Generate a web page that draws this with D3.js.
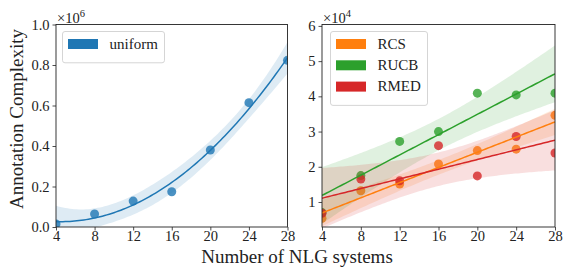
<!DOCTYPE html>
<html><head><meta charset="utf-8">
<script src="https://cdn.jsdelivr.net/npm/d3@7"></script>
<style>
body{margin:0;background:#fff}
svg{display:block}
text{font-family:"Liberation Serif","Times New Roman",serif;fill:#222}
</style>
</head><body>
<svg id="c" width="563" height="268"></svg>
<script>
// ---- data ----
const xs = [4, 8, 12, 16, 20, 24, 28];
const uniform = [15000, 64000, 128000, 174000, 380000, 614000, 823000];
const rcs  = [5400, 13200, 15100, 20800, 24600, 25000, 34600];
const rucb = [7000, 17500, 27200, 30000, 40900, 40400, 40900];
const rmed = [6800, 16500, 16000, 26000, 17400, 28600, 23900];
const seriesNames = ["RCS", "RUCB", "RMED"];
const xTicks = [4, 8, 12, 16, 20, 24, 28];
const yTicksLeft = [0, 200000, 400000, 600000, 800000, 1000000];
const yTicksRight = [10000, 20000, 30000, 40000, 50000, 60000];
const colors = {uniform: "#1f77b4", RCS: "#ff7f0e", RUCB: "#2ca02c", RMED: "#d62728"};

// ---- regression helpers ----
function invert(m) {
  const n = m.length, a = m.map((r, i) => r.concat(Array.from({length: n}, (_, j) => i === j ? 1 : 0)));
  for (let c = 0; c < n; c++) {
    let p = c; for (let r = c + 1; r < n; r++) if (Math.abs(a[r][c]) > Math.abs(a[p][c])) p = r;
    [a[c], a[p]] = [a[p], a[c]];
    const d = a[c][c]; for (let j = 0; j < 2 * n; j++) a[c][j] /= d;
    for (let r = 0; r < n; r++) if (r !== c) { const f = a[r][c]; for (let j = 0; j < 2 * n; j++) a[r][j] -= f * a[c][j]; }
  }
  return a.map(r => r.slice(n));
}
const tTable = {4: 2.7764, 5: 2.5706};
function fit(x, y, deg) {
  const u = v => (v - 16) / 12;
  const row = v => Array.from({length: deg + 1}, (_, k) => Math.pow(u(v), k));
  const X = x.map(row), n = x.length, p = deg + 1;
  const XtX = Array.from({length: p}, (_, i) => Array.from({length: p}, (_, j) => d3.sum(X, r => r[i] * r[j])));
  const Xty = Array.from({length: p}, (_, i) => d3.sum(X, (r, k) => r[i] * y[k]));
  const M = invert(XtX);
  const b = M.map(r => d3.sum(r, (v, j) => v * Xty[j]));
  const pred = v => d3.sum(row(v), (r, k) => r * b[k]);
  const sse = d3.sum(x, (v, k) => (y[k] - pred(v)) ** 2);
  const s2 = sse / (n - p), t = tTable[n - p];
  const grid = d3.range(0, 101).map(i => 4 + 24 * i / 100);
  return grid.map(g => {
    const r = row(g), q = d3.sum(r, (ri, i) => ri * d3.sum(r, (rj, j) => rj * M[i][j]));
    const yh = pred(g), h = t * Math.sqrt(s2 * q);
    return {x: g, y: yh, lo: yh - h, hi: yh + h};
  });
}

const svg = d3.select("#c");
const plotTop = 24.5, plotBottom = 227;

function panel(x0, x1, yDomain, yTicks, yFmt, expLabel, series, deg, id) {
  const x = d3.scaleLinear().domain([4, 28]).range([x0, x1]);
  const y = d3.scaleLinear().domain(yDomain).range([plotBottom, plotTop]);
  svg.append("clipPath").attr("id", id).append("rect")
    .attr("x", x0).attr("y", plotTop).attr("width", x1 - x0).attr("height", plotBottom - plotTop);
  const g = svg.append("g").attr("clip-path", `url(#${id})`);
  const fits = series.map(s => ({s, f: fit(xs, s.values, deg)}));
  fits.forEach(({s, f}) => {
    g.append("g").selectAll("circle").data(xs).join("circle")
      .attr("cx", d => x(d)).attr("cy", (d, i) => y(s.values[i])).attr("r", 4.5)
      .attr("fill", colors[s.name]).attr("fill-opacity", 0.8);
    g.append("path").datum(f)
      .attr("d", d3.area().x(d => x(d.x)).y0(d => y(d.lo)).y1(d => y(d.hi)))
      .attr("fill", colors[s.name]).attr("fill-opacity", 0.15);
  });
  fits.forEach(({s, f}) => {
    g.append("path").datum(f)
      .attr("d", d3.line().x(d => x(d.x)).y(d => y(d.y)))
      .attr("fill", "none").attr("stroke", colors[s.name]).attr("stroke-width", 1.5);
  });
  const xa = svg.append("g").attr("transform", `translate(0,${plotBottom})`)
    .call(d3.axisBottom(x).tickValues(xTicks).tickSize(3.5).tickPadding(3));
  const ya = svg.append("g").attr("transform", `translate(${x0},0)`)
    .call(d3.axisLeft(y).tickValues(yTicks).tickFormat(yFmt).tickSize(3.5).tickPadding(3));
  [xa, ya].forEach(a => {
    a.select(".domain").remove();
    a.selectAll("line").attr("stroke", "#222").attr("stroke-width", 0.8);
    a.selectAll("text").style("font-size", "14.5px").attr("fill", "#222");
  });
  xa.selectAll("text").attr("dy", "7px");
  svg.append("rect").attr("x", x0).attr("y", plotTop).attr("width", x1 - x0).attr("height", plotBottom - plotTop)
    .attr("fill", "none").attr("stroke", "#222").attr("stroke-width", 0.9);
  const ex = svg.append("text").attr("x", x0 + 1).attr("y", plotTop - 1.5).style("font-size", "14.5px");
  ex.append("tspan").text("×10");
  ex.append("tspan").attr("dy", -6).style("font-size", "10.5px").text(expLabel);
  return {x, y};
}

panel(56, 287.5, [0, 1000000], yTicksLeft, d => d3.format(".1f")(d / 1e6), "6",
  [{name: "uniform", values: uniform}], 2, "clipL");
panel(322, 555, [2900, 60400], yTicksRight, d => String(d / 1e4), "4",
  [{name: "RCS", values: rcs}, {name: "RUCB", values: rucb}, {name: "RMED", values: rmed}], 1, "clipR");

// legends
function legend(x, y, w, names) {
  const h = 10 + names.length * 21.3;
  svg.append("rect").attr("x", x).attr("y", y).attr("width", w).attr("height", h)
    .attr("rx", 2.5).attr("fill", "#fff").attr("fill-opacity", 0.8)
    .attr("stroke", "#d0d0d0").attr("stroke-width", 0.9);
  names.forEach((n, i) => {
    const cy = y + 12 + i * 21.3;
    svg.append("rect").attr("x", x + 5.5).attr("y", cy - 4.5).attr("width", 30).attr("height", 10).attr("fill", colors[n]);
    svg.append("text").attr("x", x + 47).attr("y", cy + 5.3).style("font-size", "15px").text(n);
  });
}
legend(62.5, 31.5, 102, ["uniform"]);
legend(330.5, 31.5, 97, seriesNames);

// axis labels
svg.append("text").attr("x", 297).attr("y", 263).attr("text-anchor", "middle")
  .style("font-size", "19px").text("Number of NLG systems");
svg.append("text").attr("transform", "translate(23,119) rotate(-90)").attr("text-anchor", "middle")
  .style("font-size", "19px").text("Annotation Complexity");
</script>
</body></html>
